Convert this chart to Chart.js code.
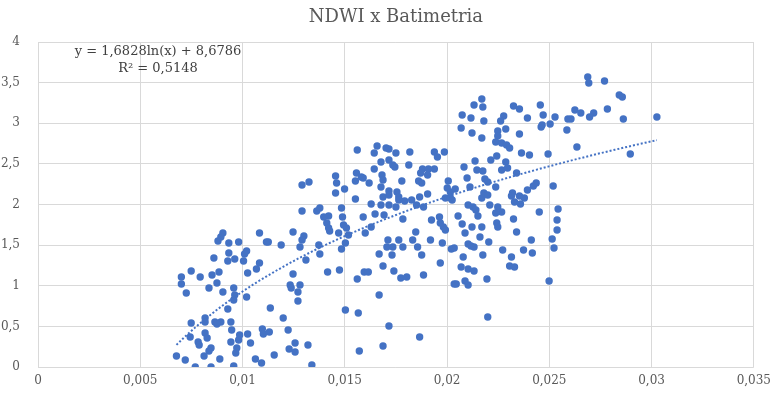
<!DOCTYPE html>
<html lang="pt">
<head>
  <meta charset="UTF-8">
  <title>NDWI x Batimetria</title>
  <script src="https://cdn.jsdelivr.net/npm/chart.js"></script>
  <style>
    html, body { margin: 0; padding: 0; background: #fff; }
    #wrap { width: 778px; height: 395px; }
  </style>
</head>
<body>
<div id="wrap"><canvas id="ndwiChart"></canvas></div>
<script>
  // NDWI (x) vs bathymetry depth (y)
  const ndwi = [
    0.00904, 0.00894, 0.00880, 0.00933, 0.00981, 0.01083, 0.01117, 0.00860, 0.00933, 0.00928,
    0.00962, 0.01005, 0.01020, 0.01010, 0.01083, 0.00749, 0.00701, 0.00793, 0.00851, 0.00885,
    0.01025, 0.01068, 0.00701, 0.00725, 0.00836, 0.00875, 0.00904, 0.00957, 0.00962, 0.00957,
    0.01020, 0.00928, 0.00749, 0.00817, 0.00817, 0.00865, 0.00894, 0.00875, 0.00943, 0.00947,
    0.00744, 0.00817, 0.00783, 0.00788, 0.00827, 0.00986, 0.01025, 0.00981, 0.00943, 0.01039,
    0.01097, 0.00846, 0.00836, 0.00972, 0.00967, 0.00677, 0.00720, 0.00812, 0.00889, 0.01063,
    0.01093, 0.00769, 0.00846, 0.00957,
    0.01561, 0.01455, 0.01460, 0.01557, 0.01581, 0.01552, 0.01291, 0.01325, 0.01499, 0.01455,
    0.01552, 0.01291, 0.01363, 0.01378, 0.01484, 0.01489, 0.01590, 0.01421, 0.01397, 0.01412,
    0.01421, 0.01494, 0.01508, 0.01470, 0.01426, 0.01126, 0.01189, 0.01247, 0.01300, 0.01291,
    0.01281, 0.01373, 0.01378, 0.01310, 0.01503, 0.01484, 0.01518, 0.01247, 0.01416, 0.01474,
    0.01561, 0.01595, 0.01233, 0.01281, 0.01238, 0.01271, 0.01271, 0.01136, 0.01503, 0.01566,
    0.01199, 0.01102, 0.01131, 0.01223, 0.01257, 0.01228, 0.01257, 0.01320, 0.01155, 0.01339,
    0.01571,
    0.01658, 0.01702, 0.01716, 0.01644, 0.01750, 0.01818, 0.01938, 0.01987, 0.01953, 0.01677,
    0.01716, 0.01735, 0.01745, 0.01813, 0.01644, 0.01880, 0.01909, 0.01938, 0.01871, 0.01905,
    0.01590, 0.01619, 0.01682, 0.01687, 0.01779, 0.01861, 0.01876, 0.02006, 0.02001, 0.01677,
    0.01716, 0.01755, 0.01905, 0.02016, 0.01687, 0.01716, 0.01764, 0.01764, 0.01793, 0.01827,
    0.01866, 0.01992, 0.02025, 0.01629, 0.01677, 0.01716, 0.01851, 0.01885, 0.01750, 0.01648,
    0.01692, 0.01784, 0.01924, 0.01963, 0.01967, 0.01982, 0.01992, 0.01600, 0.01629, 0.01847,
    0.01764, 0.01711, 0.01832, 0.01919, 0.01977, 0.01706, 0.01735, 0.01856,
    0.01731, 0.01784, 0.01876, 0.02021, 0.01668, 0.01687, 0.01740, 0.01615, 0.01774, 0.01803,
    0.01885, 0.01967, 0.02035, 0.01668, 0.01716, 0.01866, 0.01687,
    0.02170, 0.02132, 0.02175, 0.02325, 0.02354, 0.02456, 0.02074, 0.02117, 0.02180, 0.02277,
    0.02262, 0.02393, 0.02470, 0.02069, 0.02287, 0.02460, 0.02248, 0.02122, 0.02170, 0.02354,
    0.02248, 0.02238, 0.02267, 0.02291, 0.02306, 0.02364, 0.02403, 0.02243, 0.02214, 0.02137,
    0.02287, 0.02083, 0.02146, 0.02175, 0.02267, 0.02296, 0.02340, 0.02098, 0.02185, 0.02199,
    0.02112, 0.02238, 0.02040, 0.02422, 0.02436, 0.02393, 0.02320, 0.02180, 0.02016, 0.02170,
    0.02199, 0.02354, 0.02378, 0.02315, 0.02103, 0.02209, 0.02248, 0.02330, 0.02359,
    0.02127, 0.02141, 0.02267, 0.02238, 0.02451, 0.02054, 0.02151, 0.02074, 0.02122, 0.02170,
    0.02243, 0.02248, 0.02325, 0.02340, 0.02088, 0.02161, 0.02204, 0.02103, 0.02117, 0.02132,
    0.02035, 0.02272, 0.02374, 0.02417, 0.02412, 0.02175, 0.02315, 0.02079, 0.02306, 0.02330,
    0.02069, 0.02103, 0.02132, 0.02195, 0.02088, 0.02045, 0.02103, 0.02199,
    0.02688, 0.02693, 0.02770, 0.02842, 0.02857, 0.02528, 0.02625, 0.02654, 0.02717, 0.02697,
    0.02784, 0.02862, 0.03026, 0.02465, 0.02504, 0.02591, 0.02606, 0.02586, 0.02635, 0.02494,
    0.02896,
    0.02519, 0.02543, 0.02538, 0.02538, 0.02514, 0.02523, 0.02499
  ];

  const depth = [
    1.649, 1.600, 1.551, 1.526, 1.538, 1.649, 1.538, 1.342, 1.403, 1.305,
    1.329, 1.305, 1.428, 1.391, 1.280, 1.182, 1.108, 1.108, 1.132, 1.169,
    1.157, 1.206, 1.022, 0.911, 0.972, 1.034, 0.923, 0.972, 0.886, 0.825,
    0.862, 0.714, 0.542, 0.603, 0.554, 0.554, 0.554, 0.529, 0.554, 0.455,
    0.369, 0.418, 0.308, 0.271, 0.357, 0.394, 0.406, 0.332, 0.308, 0.295,
    0.468, 0.234, 0.197, 0.234, 0.172, 0.135, 0.086, 0.135, 0.098, 0.098,
    0.049, 0.000, 0.000, 0.012,
    2.671, 2.351, 2.265, 2.388, 2.338, 2.289, 2.240, 2.277, 2.191, 2.142,
    2.068, 1.920, 1.920, 1.957, 1.957, 1.846, 1.846, 1.858, 1.846, 1.772,
    1.711, 1.748, 1.711, 1.649, 1.674, 1.538, 1.502, 1.662, 1.612, 1.563,
    1.477, 1.502, 1.391, 1.317, 1.526, 1.452, 1.625, 1.145, 1.169, 1.194,
    1.083, 1.169, 1.009, 1.009, 0.972, 0.923, 0.812, 0.726, 0.702, 0.665,
    0.603, 0.406, 0.431, 0.455, 0.295, 0.222, 0.185, 0.271, 0.148, 0.025,
    0.197,
    2.720, 2.695, 2.683, 2.634, 2.634, 2.646, 2.646, 2.646, 2.585, 2.523,
    2.548, 2.486, 2.462, 2.486, 2.437, 2.437, 2.437, 2.437, 2.388, 2.363,
    2.326, 2.265, 2.363, 2.302, 2.289, 2.289, 2.265, 2.289, 2.203, 2.215,
    2.166, 2.154, 2.129, 2.154, 2.092, 2.117, 2.092, 2.055, 2.043, 2.055,
    2.092, 2.080, 2.055, 2.006, 1.994, 1.994, 1.994, 1.969, 1.969, 1.883,
    1.871, 1.822, 1.809, 1.846, 1.772, 1.723, 1.686, 1.649, 1.723, 1.662,
    1.563, 1.563, 1.563, 1.563, 1.526, 1.477, 1.477, 1.477,
    1.378, 1.477, 1.378, 1.452, 1.391, 1.243, 1.182, 1.169, 1.095, 1.108,
    1.132, 1.280, 1.022, 0.886, 0.505, 0.369, 0.258,
    3.298, 3.225, 3.200, 3.212, 3.175, 3.225, 3.102, 3.065, 3.028, 3.089,
    3.028, 3.065, 3.102, 2.942, 2.929, 2.954, 2.905, 2.880, 2.818, 2.868,
    2.843, 2.769, 2.757, 2.732, 2.695, 2.634, 2.609, 2.597, 2.548, 2.535,
    2.523, 2.462, 2.425, 2.412, 2.425, 2.449, 2.388, 2.326, 2.314, 2.277,
    2.215, 2.215, 2.191, 2.228, 2.265, 2.178, 2.142, 2.142, 2.080, 2.080,
    2.117, 2.105, 2.080, 2.105, 1.994, 1.994, 1.969, 2.031, 2.006,
    1.969, 1.932, 1.908, 1.895, 1.908, 1.858, 1.858, 1.760, 1.723, 1.723,
    1.772, 1.723, 1.822, 1.662, 1.649, 1.600, 1.538, 1.514, 1.489, 1.477,
    1.465, 1.440, 1.440, 1.403, 1.563, 1.378, 1.354, 1.354, 1.243, 1.231,
    1.231, 1.206, 1.182, 1.083, 1.058, 1.022, 1.009, 0.615,
    3.569, 3.495, 3.520, 3.348, 3.323, 3.077, 3.163, 3.126, 3.126, 3.077,
    3.175, 3.052, 3.077, 2.978, 2.991, 3.052, 3.052, 2.917, 2.708, 2.622,
    2.622,
    2.228, 1.945, 1.809, 1.686, 1.575, 1.465, 1.058
  ];

  const xTickLabels = ['0', '0,005', '0,01', '0,015', '0,02', '0,025', '0,03', '0,035'];
  const yTickLabels = ['0', '0,5', '1', '1,5', '2', '2,5', '3', '3,5', '4'];

  // logarithmic trendline as printed on the chart
  const fitA = 1.6828;
  const fitB = 8.6786;

  const points = ndwi.map((x, i) => ({ x: x, y: depth[i] }));

  const xMin = Math.min(...ndwi);
  const xMax = Math.max(...ndwi);
  const trend = [];
  for (let i = 0; i <= 80; i++) {
    const x = xMin + (xMax - xMin) * i / 80;
    trend.push({ x: x, y: fitA * Math.log(x) + fitB });
  }

  const serif = "'DejaVu Serif', 'Liberation Serif', serif";

  // title + equation text, placed relative to the plot area
  const textPlugin = {
    id: 'textPlugin',
    afterDraw(chart) {
      const ctx = chart.ctx;
      const area = chart.chartArea;
      ctx.save();
      ctx.textAlign = 'center';
      ctx.textBaseline = 'middle';
      ctx.fillStyle = '#595959';
      ctx.font = '18px ' + serif;
      ctx.fillText('NDWI x Batimetria', (area.left + area.right) / 2, 17);
      ctx.fillStyle = '#404040';
      ctx.font = '13px ' + serif;
      const cx = area.left + 120;
      ctx.fillText('y = 1,6828ln(x) + 8,6786', cx, area.top + 10);
      ctx.fillText('R\u00B2 = 0,5148', cx, area.top + 27);
      ctx.restore();
    }
  };

  new Chart(document.getElementById('ndwiChart'), {
    type: 'scatter',
    data: {
      datasets: [
        {
          label: 'Linha de tendência',
          data: trend,
          showLine: true,
          borderColor: '#4472C4',
          borderWidth: 2,
          borderDash: [2, 2],
          pointRadius: 0,
          order: 0
        },
        {
          label: 'NDWI x Batimetria',
          data: points,
          backgroundColor: '#4472C4',
          borderColor: '#4472C4',
          pointRadius: 3.7,
          borderWidth: 0,
          order: 1
        }
      ]
    },
    options: {
      responsive: true,
      maintainAspectRatio: false,
      animation: false,
      layout: { padding: { left: 0, right: 16, top: 42, bottom: 0 } },
      plugins: {
        legend: { display: false },
        tooltip: { enabled: false },
        title: { display: false }
      },
      scales: {
        x: {
          type: 'linear',
          min: 0,
          max: 0.035,
          ticks: {
            stepSize: 0.005,
            padding: 7,
            color: '#595959',
            font: { family: serif, size: 12 },
            maxRotation: 0,
            callback: (v, i) => xTickLabels[i]
          },
          grid: { color: '#d9d9d9', drawTicks: false },
          border: { display: false },
          afterFit(scale) { scale.height = 28; }
        },
        y: {
          min: 0,
          max: 4,
          ticks: {
            stepSize: 0.5,
            padding: 18,
            color: '#595959',
            font: { family: serif, size: 12 },
            callback: (v, i) => yTickLabels[i]
          },
          grid: { color: '#d9d9d9', drawTicks: false },
          border: { display: false },
          afterFit(scale) { scale.width = 38; }
        }
      }
    },
    plugins: [textPlugin]
  });
</script>
</body>
</html>
